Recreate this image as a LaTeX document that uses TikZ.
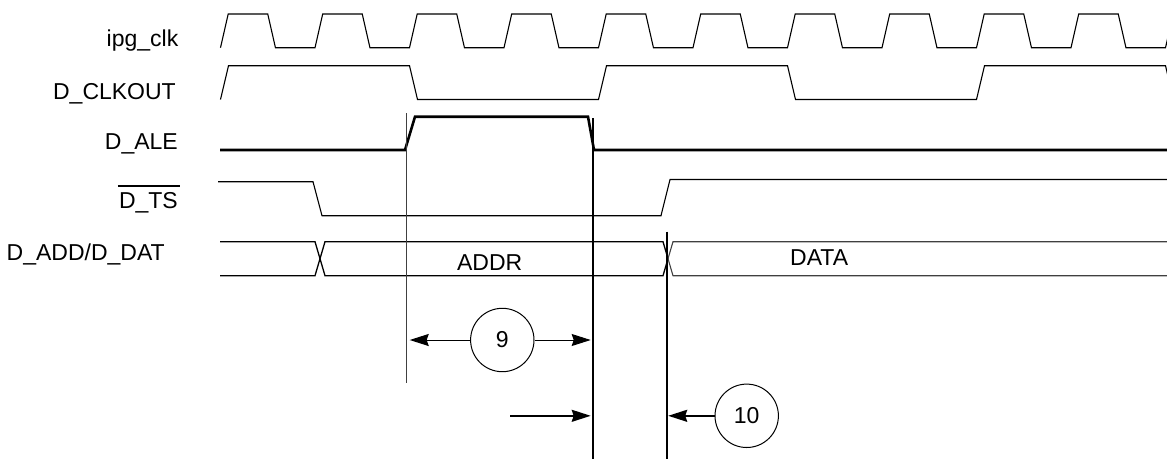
\documentclass[tikz,border=0pt]{standalone}
\usepackage{fontspec}
\setmainfont{Liberation Sans}
\usetikzlibrary{positioning,arrows.meta,calc}
\tikzset{lab/.style = {font=\fontsize{23}{27}\selectfont, inner sep=0pt},
         sig/.style = {line width=1.1pt, line join=miter},
         ale/.style = {line width=2.6pt},
         bus/.style = {line width=1.3pt},
         mark line/.style = {line width=1.6pt},
         num/.style = {circle, draw, line width=1pt, minimum size=63.4pt, inner sep=0pt,
                       font=\fontsize{23}{27}\selectfont},
         dim/.style = {-{Stealth[length=19pt,width=12pt,inset=2pt]}, line width=1pt}}

\begin{document}
\begin{tikzpicture}[x=1pt, y=-1pt]
            \clip (0,0) rectangle (1167,459);
            \node[lab, anchor=base east] (lclk) at (178.5,46.7) {ipg\_clk};
            \node[lab, anchor=base east] (lout) at (176,99) {D\_CLKOUT};
            \node[lab, anchor=base east] (lale) at (178,149.3) {D\_ALE};
            \node[lab, anchor=base east] (lts)  at (178,208.3) {D\_TS};
            \draw[line width=1.3pt] ([xshift=-1pt,yshift=6pt]lts.north west) -- ([xshift=2pt,yshift=6pt]lts.north east);
            \node[lab, anchor=base west] (lbus) at (6.5,260) {D\_ADD/D\_DAT};
            \draw[sig] (220.5,47.7) \foreach \k in {0,...,10}{ -- ++(7.7,-33.7) -- ++(39.55,0) -- ++(7.7,33.7) -- ++(39.55,0) };
            \draw[sig] (220.5,99.5) \foreach \k in {0,1,2}{ -- ++(8,-33.8) -- ++(181,0) -- ++(8,33.8) -- ++(181,0) };
            \draw[ale] (220,150) -- (405,150) -- (415,116.7) -- (588,116.7) -- (594,150) -- (1167,150);
            \draw[sig] (218,181.7) -- (313,181.7) -- (322,215.7) -- (661,215.7) -- (670,179.5) -- (1167,179.5);
            \draw[bus] (220,241.7) -- (315,241.7) -- (320,258.7) -- (315,275.7) -- (220,275.7);
            \draw[bus] (320,258.7) -- (325,241.7) -- (663,241.7) -- (668,258.7) -- (663,275.7) -- (325,275.7) -- cycle;
            \draw[bus, line width=1.1pt, black!75] (1167,241.7) -- (673,241.7) -- (668,258.7) -- (673,275.7) -- (1167,275.7);
            \node[lab, anchor=base] (addr) at (489.7,270) {ADDR};
            \node[lab, anchor=base] (data) at (819.2,265) {DATA};
            \coordinate (t1a) at (406.7,113);
            \coordinate (t1b) at (406.7,383);
            \coordinate (t2a) at (592.7,118.3);
            \coordinate (t2b) at (592.7,459);
            \coordinate (t3a) at (666.7,231.7);
            \coordinate (t3b) at (666.7,459);
            \draw[line width=1pt, black!75] (t1a) -- (t1b);
            \draw[mark line, line width=1.8pt] (t2a) -- (t2b);
            \draw[mark line] (t3a) -- (t3b);
            \node[num] (c9)  at (502.3,340) {9};
            \node[num] (c10) at (746.7,415.8) {10};
            \coordinate (s2) at (510,415.8);
            \draw[dim] (c9.west) -- ($(c9.west -| t1a)+(3,0)$);
            \draw[dim] (c9.east) -- ($(c9.east -| t2a)+(-2,0)$);
            \draw[dim, line width=1.7pt] (s2) -- ($(s2 -| t2a)+(-2,0)$);
            \draw[dim, line width=1.7pt] (c10.west) -- ($(c10.west -| t3a)+(1.5,0)$);
        \end{tikzpicture}
\end{document}
